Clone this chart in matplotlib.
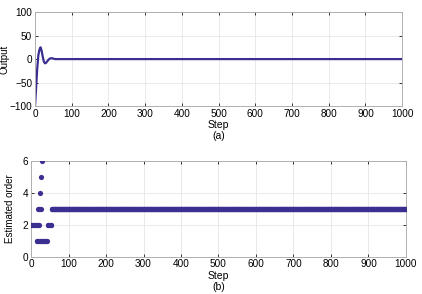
import matplotlib
matplotlib.use("Agg")
import matplotlib.pyplot as plt
import numpy as np

plt.rcParams['font.family'] = ['Liberation Sans', 'DejaVu Sans']

# (a) output response
out_steps = [0, 3, 6, 9, 12, 15, 18, 21, 24, 27, 30, 33, 36, 40, 45, 50, 55, 1000]
out_vals = [-100, -60, -20, 8, 20, 25, 18, 5, -5, -9, -8, -5, -2, 1, 2, 1, 0, 0]

# (b) estimated order
ord_steps_early = [1, 3, 5, 7, 9, 11, 13, 15, 17, 19, 21,
                   15, 17, 19, 21, 23, 25, 27, 29, 31, 33, 35, 37, 39, 41, 43,
                   18, 20, 22, 24, 26,
                   25, 27, 30,
                   44, 46, 48, 50, 52, 54]
ord_vals_early = [2, 2, 2, 2, 2, 2, 2, 2, 2, 2, 2,
                  1, 1, 1, 1, 1, 1, 1, 1, 1, 1, 1, 1, 1, 1, 1,
                  3, 3, 3, 3, 3,
                  4, 5, 6,
                  2, 2, 2, 2, 2, 2]
ord_tail_start = 55
ord_tail_end = 1000
ord_tail_value = 3

color = '#3b2f92'

fig = plt.figure(figsize=(4.22, 2.94), dpi=100)
ax1 = fig.add_axes([0.083, 0.639, 0.870, 0.320])
ax2 = fig.add_axes([0.0735, 0.127, 0.8885, 0.325])

ax1.plot(out_steps, out_vals, color=color, lw=1.6)
ax1.set_xlim(0, 1000)
ax1.set_ylim(-100, 100)
ax1.set_xticks(np.arange(0, 1001, 100))
ax1.set_yticks([-100, -50, 0, 50, 100])
ax1.set_xlabel('Step\n(a)', fontsize=7.5, labelpad=1, linespacing=1.1)
ax1.set_ylabel('Output', fontsize=7)
ax1.yaxis.set_label_coords(-0.070, 0.5)

tail_steps = np.arange(ord_tail_start, ord_tail_end + 1)
ax2.scatter(ord_steps_early, ord_vals_early, s=14, color=color, lw=0, zorder=3)
ax2.scatter(tail_steps, np.full(tail_steps.shape, ord_tail_value), s=14, color=color, lw=0, zorder=3)
ax2.set_xlim(0, 1000)
ax2.set_ylim(0, 6)
ax2.set_xticks(np.arange(0, 1001, 100))
ax2.set_yticks([0, 2, 4, 6])
ax2.set_xlabel('Step\n(b)', fontsize=7.5, labelpad=1, linespacing=1.1)
ax2.set_ylabel('Estimated order', fontsize=7)
ax2.yaxis.set_label_coords(-0.043, 0.5)

for ax in (ax1, ax2):
    ax.grid(True, color='#e6e6e6', lw=0.6)
    ax.set_axisbelow(True)
    for s in ax.spines.values():
        s.set_color('#b0b0b0')
        s.set_linewidth(0.7)
    ax.tick_params(direction='in', length=2, width=0.7, color='#333333',
                   labelsize=7.2, pad=2, top=True, right=True)

fig.savefig('out.png', dpi=100)
